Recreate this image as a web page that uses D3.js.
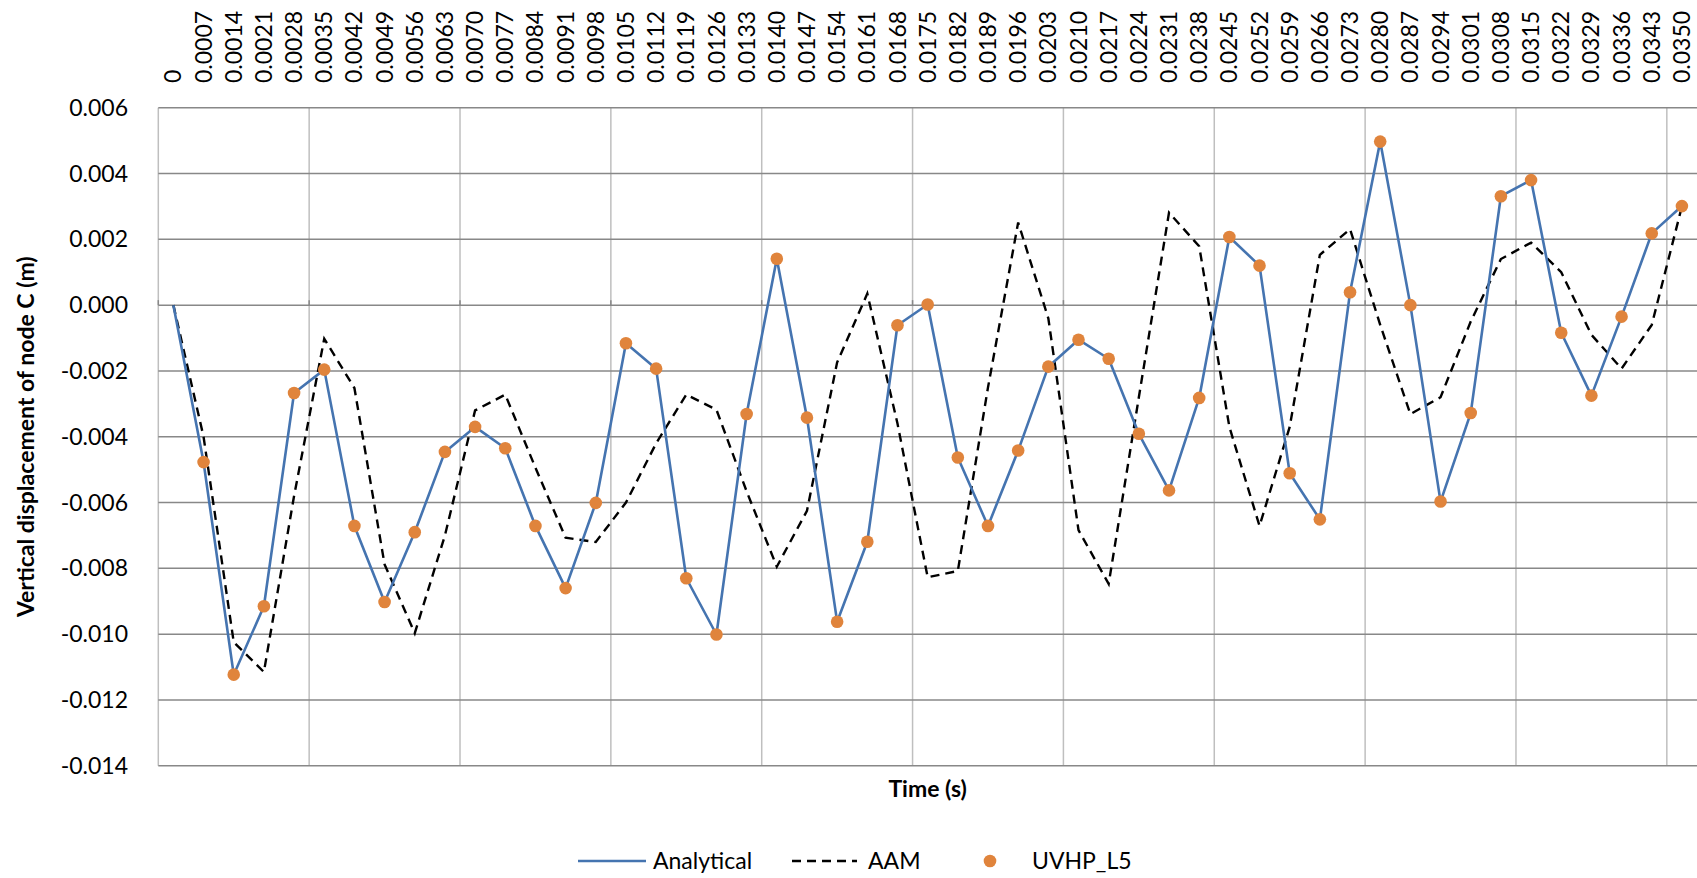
<!DOCTYPE html>
<html>
<head>
<meta charset="utf-8" />
<title>Vertical displacement of node C</title>
<style>
html, body {
  margin: 0;
  padding: 0;
  background-color: #ffffff;
}
svg text {
  font-family: Lato, "Open Sans", sans-serif;
  fill: #000000;
}
</style>
</head>

<body>
<script src="https://d3js.org/d3.v7.min.js"></script>
<script>

      // ---------------------------------------------------------
      // Data

      const timeLabels = [
        '0', '0.0007', '0.0014', '0.0021', '0.0028', '0.0035', '0.0042', '0.0049', '0.0056', '0.0063',
        '0.0070', '0.0077', '0.0084', '0.0091', '0.0098', '0.0105', '0.0112', '0.0119', '0.0126', '0.0133',
        '0.0140', '0.0147', '0.0154', '0.0161', '0.0168', '0.0175', '0.0182', '0.0189', '0.0196', '0.0203',
        '0.0210', '0.0217', '0.0224', '0.0231', '0.0238', '0.0245', '0.0252', '0.0259', '0.0266', '0.0273',
        '0.0280', '0.0287', '0.0294', '0.0301', '0.0308', '0.0315', '0.0322', '0.0329', '0.0336', '0.0343',
        '0.0350'
      ]

      const analytical = [
        0, -0.00477, -0.01123, -0.00915, -0.00267, -0.00196, -0.00671, -0.00902, -0.00690, -0.00446,
        -0.00370, -0.00435, -0.00671, -0.00860, -0.00601, -0.00116, -0.00193, -0.00830, -0.01001, -0.00331,
        0.00141, -0.00342, -0.00962, -0.00719, -0.00061, 0.00002, -0.00463, -0.00671, -0.00442, -0.00187,
        -0.00105, -0.00163, -0.00391, -0.00563, -0.00282, 0.00207, 0.00120, -0.00511, -0.00651, 0.00039,
        0.00497, 0.00000, -0.00597, -0.00328, 0.00331, 0.00380, -0.00084, -0.00275, -0.00035, 0.00218,
        0.00301
      ]

      const aam = [
        0, -0.00400, -0.01024, -0.01115, -0.00580, -0.00102, -0.00252, -0.00788, -0.00997, -0.00700,
        -0.00320, -0.00272, -0.00494, -0.00707, -0.00720, -0.00600, -0.00420, -0.00272, -0.00318, -0.00566,
        -0.00795, -0.00625, -0.00174, 0.00035, -0.00360, -0.00827, -0.00808, -0.00250, 0.00251, -0.00040,
        -0.00684, -0.00847, -0.00280, 0.00281, 0.00179, -0.00370, -0.00671, -0.00370, 0.00153, 0.00231,
        -0.00060, -0.00331, -0.00280, -0.00050, 0.00140, 0.00190, 0.00100, -0.00090, -0.00193, -0.00060,
        0.00300
      ]

      // first point has no marker in the original
      const uvhpL5 = [
        null, -0.00477, -0.01123, -0.00915, -0.00267, -0.00196, -0.00671, -0.00902, -0.00690, -0.00446,
        -0.00370, -0.00435, -0.00671, -0.00860, -0.00601, -0.00116, -0.00193, -0.00830, -0.01001, -0.00331,
        0.00141, -0.00342, -0.00962, -0.00719, -0.00061, 0.00002, -0.00463, -0.00671, -0.00442, -0.00187,
        -0.00105, -0.00163, -0.00391, -0.00563, -0.00282, 0.00207, 0.00120, -0.00511, -0.00651, 0.00039,
        0.00497, 0.00000, -0.00597, -0.00328, 0.00331, 0.00380, -0.00084, -0.00275, -0.00035, 0.00218,
        0.00301
      ]

      const yTicks = [-0.014, -0.012, -0.010, -0.008, -0.006, -0.004, -0.002, 0, 0.002, 0.004, 0.006]

      // ---------------------------------------------------------
      // Layout

      const w = 1697
      const h = 878
      const plot = { left: 158.3, right: 1697, top: 107.7, bottom: 765.8 }

      const svg = d3.select('body').append('svg')
        .attr('width', w)
        .attr('height', h)

      svg.append('rect')
        .attr('width', w)
        .attr('height', h)
        .attr('fill', '#ffffff')

      const x = d3.scaleBand()
        .domain(timeLabels)
        .range([plot.left, plot.right])
        .paddingInner(0)
        .paddingOuter(0)

      const y = d3.scaleLinear()
        .domain([-0.014, 0.006])
        .range([plot.bottom, plot.top])

      const cx = (i) => x(timeLabels[i]) + x.bandwidth() / 2

      const locale = d3.formatLocale({ decimal: '.', thousands: ',', grouping: [3], currency: ['', ''], minus: '-' })
      const yFormat = locale.format('.3f')

      // ---------------------------------------------------------
      // Grid

      // vertical grid every 5 categories
      const vLines = timeLabels.map((d, i) => i).filter(i => i % 5 === 0)
      svg.append('g')
        .selectAll('line')
        .data(vLines)
        .enter().append('line')
        .attr('x1', i => x(timeLabels[i]))
        .attr('x2', i => x(timeLabels[i]))
        .attr('y1', plot.top)
        .attr('y2', plot.bottom)
        .attr('stroke', '#bfbfbf')
        .attr('stroke-width', 1.5)

      svg.append('g')
        .selectAll('line')
        .data(yTicks)
        .enter().append('line')
        .attr('x1', plot.left)
        .attr('x2', plot.right)
        .attr('y1', d => y(d))
        .attr('y2', d => y(d))
        .attr('stroke', '#888888')
        .attr('stroke-width', 1.5)

      // small tick marks on the zero line
      svg.append('g')
        .selectAll('line')
        .data(vLines)
        .enter().append('line')
        .attr('x1', i => x(timeLabels[i]))
        .attr('x2', i => x(timeLabels[i]))
        .attr('y1', y(0) - 5)
        .attr('y2', y(0))
        .attr('stroke', '#888888')
        .attr('stroke-width', 1.5)

      // ---------------------------------------------------------
      // Axes labels

      svg.append('g')
        .selectAll('text')
        .data(yTicks)
        .enter().append('text')
        .attr('x', 128)
        .attr('y', d => y(d))
        .attr('dy', '0.35em')
        .attr('text-anchor', 'end')
        .style('font-size', '23px')
        .text(d => yFormat(d))

      svg.append('g')
        .selectAll('text')
        .data(timeLabels)
        .enter().append('text')
        .attr('transform', (d, i) => 'translate(' + cx(i) + ',83) rotate(-90)')
        .attr('dy', '0.35em')
        .attr('text-anchor', 'start')
        .style('font-size', '23px')
        .text(d => d)

      svg.append('text')
        .attr('transform', 'translate(26,' + (plot.top + plot.bottom) / 2 + ') rotate(-90)')
        .attr('dy', '0.35em')
        .attr('text-anchor', 'middle')
        .style('font-size', '23px')
        .style('font-weight', 'bold')
        .text('Vertical displacement of node C (m)')

      svg.append('text')
        .attr('x', (plot.left + plot.right) / 2)
        .attr('y', 789)
        .attr('dy', '0.35em')
        .attr('text-anchor', 'middle')
        .style('font-size', '23px')
        .style('font-weight', 'bold')
        .text('Time (s)')

      // ---------------------------------------------------------
      // Series

      const line = d3.line()
        .x((d, i) => cx(i))
        .y(d => y(d))

      svg.append('path')
        .datum(aam)
        .attr('d', line)
        .attr('fill', 'none')
        .attr('stroke', '#000000')
        .attr('stroke-width', 2.4)
        .attr('stroke-dasharray', '9,6')

      svg.append('path')
        .datum(analytical)
        .attr('d', line)
        .attr('fill', 'none')
        .attr('stroke', '#4574b0')
        .attr('stroke-width', 2.6)
        .attr('stroke-linejoin', 'round')

      svg.append('g')
        .selectAll('circle')
        .data(uvhpL5.map((v, i) => ({ v: v, i: i })).filter(d => d.v !== null))
        .enter().append('circle')
        .attr('cx', d => cx(d.i))
        .attr('cy', d => y(d.v))
        .attr('r', 6.3)
        .attr('fill', '#e0843c')

      // ---------------------------------------------------------
      // Legend

      const ly = 861
      const legend = svg.append('g')

      legend.append('line')
        .attr('x1', 578).attr('x2', 646)
        .attr('y1', ly).attr('y2', ly)
        .attr('stroke', '#4574b0')
        .attr('stroke-width', 2.6)
      legend.append('text')
        .attr('x', 653).attr('y', ly).attr('dy', '0.35em')
        .style('font-size', '23px')
        .text('Analytical')

      legend.append('line')
        .attr('x1', 792).attr('x2', 857)
        .attr('y1', ly).attr('y2', ly)
        .attr('stroke', '#000000')
        .attr('stroke-width', 2.4)
        .attr('stroke-dasharray', '9,6')
      legend.append('text')
        .attr('x', 868).attr('y', ly).attr('dy', '0.35em')
        .style('font-size', '23px')
        .text('AAM')

      legend.append('circle')
        .attr('cx', 990).attr('cy', ly)
        .attr('r', 6.3)
        .attr('fill', '#e0843c')
      legend.append('text')
        .attr('x', 1032).attr('y', ly).attr('dy', '0.35em')
        .style('font-size', '23px')
        .text('UVHP_L5')

</script>
</body>
</html>
